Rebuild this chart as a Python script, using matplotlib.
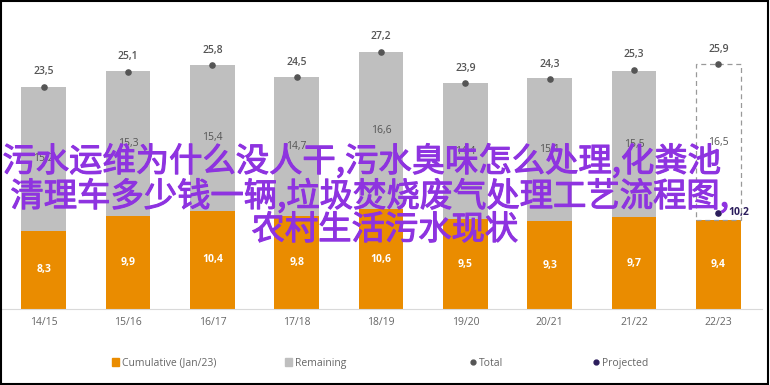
import matplotlib.pyplot as plt
import matplotlib.patheffects as pe
from matplotlib.lines import Line2D
from matplotlib.patches import Patch, Rectangle

plt.rcParams['font.family'] = ['Open Sans', 'DejaVu Sans']

seasons = ['14/15', '15/16', '16/17', '17/18', '18/19', '19/20', '20/21', '21/22', '22/23']
cumulative = [8.3, 9.9, 10.4, 9.8, 10.6, 9.5, 9.3, 9.7, 9.4]
remaining = [15.2, 15.3, 15.4, 14.7, 16.6, 14.4, 15.1, 15.5, 16.5]
totals = [23.5, 25.1, 25.8, 24.5, 27.2, 23.9, 24.3, 25.3, 25.9]
projected = 10.2

wm_lines = ['污水运维为什么没人干,污水臭味怎么处理,化粪池',
            '清理车多少钱一辆,垃圾焚烧废气处理工艺流程图,',
            '农村生活污水现状']

orange = '#ea8c00'
grey = '#bfbfbf'
dark = '#555555'
navy = '#2b1d5c'
purple = '#8e33e0'


def fmt(v):
    return ('%.1f' % v).replace('.', ',')


fig = plt.figure(figsize=(7.7, 3.85), dpi=100)
ax = fig.add_axes([0.003, 0.197, 0.987, 0.737])

x = list(range(len(seasons)))
w = 0.53
n = len(seasons) - 1

# 实际部分
ax.bar(x, cumulative, width=w, color=orange, zorder=2)
ax.bar(x[:n], remaining[:n], bottom=cumulative[:n], width=w, color=grey, zorder=2)
# 最后一季: 虚线框
ax.bar(x[n], remaining[n], bottom=cumulative[n], width=w, facecolor='none',
       edgecolor='#999999', linestyle=(0, (4, 3)), linewidth=0.9, zorder=2)

ax.scatter(x, totals, s=14, color=dark, zorder=3)
ax.scatter([x[n]], [projected], s=14, color=navy, zorder=3)

for i in x:
    ax.text(i, cumulative[i] / 2, fmt(cumulative[i]), ha='center', va='center',
            color='white', fontsize=7.5, fontweight='bold', zorder=4)
    ax.text(i, cumulative[i] + remaining[i] / 2, fmt(remaining[i]), ha='center',
            va='center', color=dark, fontsize=7.5, zorder=4)
    ax.text(i, totals[i] + 1.0, fmt(totals[i]), ha='center', va='bottom',
            color=dark, fontsize=7.5, fontweight='semibold', zorder=4)
ax.text(x[n] + 0.12, projected, fmt(projected), ha='left', va='center',
        color=navy, fontsize=7.5, fontweight='bold', zorder=4)

ax.set_xlim(-0.49, 8.52)
ax.set_ylim(0, 30)
ax.set_xticks(x)
ax.set_xticklabels(seasons, color='#666666', fontsize=7.5)
ax.set_yticks([])
for s in ['top', 'right', 'left']:
    ax.spines[s].set_visible(False)
ax.spines['bottom'].set_color('#d9d9d9')
ax.tick_params(axis='x', length=0, pad=6)

# 图例: 四个分开放
handles = [
    Patch(color=orange, label='Cumulative (Jan/23)'),
    Patch(color=grey, label='Remaining'),
    Line2D([], [], marker='o', color=dark, linestyle='none', markersize=3.5, label='Total'),
    Line2D([], [], marker='o', color=navy, linestyle='none', markersize=3.5, label='Projected'),
]
leg_x = [112, 285, 469, 592]
for h, lx in zip(handles, leg_x):
    leg = fig.legend(handles=[h], loc='center left', bbox_to_anchor=(lx / 770, 0.057),
                     frameon=False, fontsize=7.5, handlelength=0.7, handleheight=0.7,
                     handletextpad=0.3, borderpad=0, borderaxespad=0)
    for t in leg.get_texts():
        t.set_color('#666666')

# 水印文字
wm_pos = [(362, 162), (370, 197), (385, 230)]
for line, (tx, ty) in zip(wm_lines, wm_pos):
    fig.text(tx / 770, 1 - ty / 385, line, ha='center', va='center', fontsize=24,
             color=purple, family=['Noto Sans CJK SC', 'DejaVu Sans'],
             path_effects=[pe.withStroke(linewidth=0.8, foreground=purple)], zorder=10)

fig.patches.append(Rectangle((0.001, 0.003), 0.996, 0.995, transform=fig.transFigure,
                             fill=False, edgecolor='black', linewidth=1.5))

fig.savefig('out.png', dpi=100)
